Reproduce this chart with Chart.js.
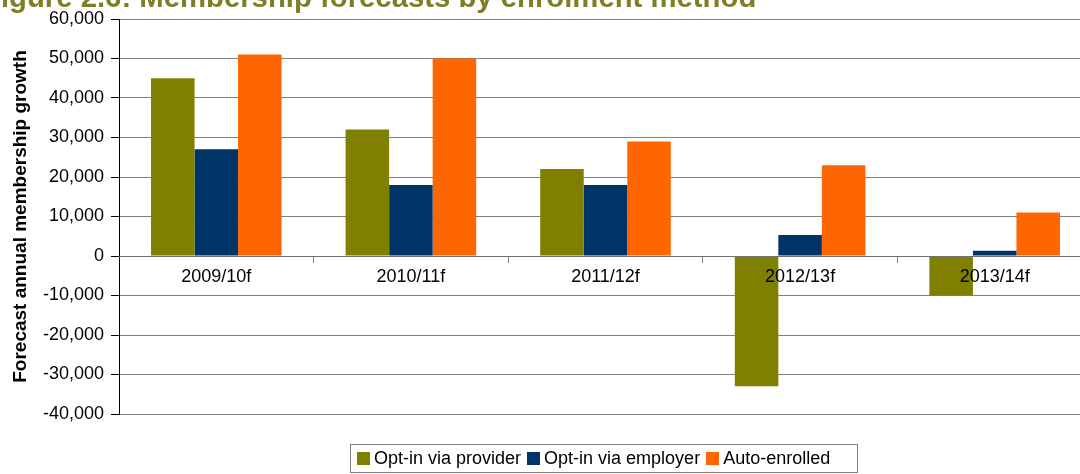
<!DOCTYPE html>
<html>
<head>
<meta charset="utf-8">
<script src="https://cdn.jsdelivr.net/npm/chart.js@4.4.1/dist/chart.umd.min.js"></script>
<style>
    html, body { margin: 0; padding: 0; width: 1080px; height: 474px; overflow: hidden; background: #fff; }
    #wrap { position: absolute; left: 0; top: 0; width: 1100px; height: 474px; }
    #title {
        position: absolute; left: -17px; top: -18px;
        font: bold 29.3px/29px "Liberation Sans", Arial, sans-serif;
        color: #7d7f27; white-space: nowrap;
    }
    #legend {
        position: absolute; left: 350px; top: 444px; width: 506px; height: 27px;
        border: 1px solid #7f7f7f; box-sizing: content-box;
        display: flex; align-items: center;
        font: 18px "Liberation Sans", Arial, sans-serif; color: #000;
    }
    .item { display: flex; align-items: center; margin-left: 6px; }
    .swatch { width: 13px; height: 13px; margin-right: 4px; }
</style>
</head>
<body>
<div id="wrap">
    <canvas id="chart" width="1100" height="474"></canvas>
    <div id="title">Figure 2.6: Membership forecasts by enrolment method</div>
    <div id="legend"></div>
</div>
<script>
// Chart data
const categories = ['2009/10f', '2010/11f', '2011/12f', '2012/13f', '2013/14f'];
const seriesNames = ['Opt-in via provider', 'Opt-in via employer', 'Auto-enrolled'];
const optInProvider = [45000, 32000, 22000, -33000, -10000];
const optInEmployer = [27000, 18000, 18000, 5300, 1300];
const autoEnrolled = [51000, 50000, 29000, 23000, 11000];
const seriesColours = ['#808000', '#003366', '#ff6600'];
const yMin = -40000;
const yMax = 60000;
const yStep = 10000;

const seriesValues = [optInProvider, optInEmployer, autoEnrolled];
const tickFont = { family: '"Liberation Sans", Arial, sans-serif', size: 18 };

// Legend with a border, built from the series
const legend = document.getElementById('legend');
seriesNames.forEach(function(name, i) {
    const item = document.createElement('div');
    item.className = 'item';
    const swatch = document.createElement('span');
    swatch.className = 'swatch';
    swatch.style.background = seriesColours[i];
    item.appendChild(swatch);
    item.appendChild(document.createTextNode(name));
    legend.appendChild(item);
});

const ctx = document.getElementById('chart').getContext('2d');
new Chart(ctx, {
    type: 'bar',
    data: {
        labels: categories,
        datasets: seriesNames.map(function(name, i) {
            return {
                label: name,
                data: seriesValues[i],
                backgroundColor: seriesColours[i],
                borderWidth: 0,
                barPercentage: 1,
                categoryPercentage: 0.671
            };
        })
    },
    options: {
        responsive: false,
        animation: false,
        layout: { padding: { top: 19, bottom: 60, left: 0, right: 8 } },
        plugins: {
            legend: { display: false },
            tooltip: { enabled: false }
        },
        scales: {
            x: {
                position: { y: 0 },
                grid: { offset: true, drawOnChartArea: false, color: '#808080', tickLength: 6 },
                // zero line and labels sit on top of the bars
                border: { display: true, color: '#707070', width: 1, z: 1 },
                ticks: { z: 1, color: '#000', font: tickFont, padding: 4, maxRotation: 0, autoSkip: false }
            },
            y: {
                min: yMin,
                max: yMax,
                afterFit: function(scale) { scale.width = 119; },
                grid: { color: '#808080', tickColor: '#000', tickLength: 8 },
                border: { display: true, color: '#000', width: 1 },
                ticks: {
                    stepSize: yStep,
                    color: '#000',
                    font: tickFont,
                    padding: 7,
                    callback: function(v) { return v.toLocaleString('en-US'); }
                },
                title: {
                    display: true,
                    text: 'Forecast annual membership growth',
                    color: '#000',
                    font: { family: '"Liberation Sans", Arial, sans-serif', size: 19, weight: 'bold' },
                    padding: { top: 9, bottom: 0 }
                }
            }
        }
    }
});
</script>
</body>
</html>
